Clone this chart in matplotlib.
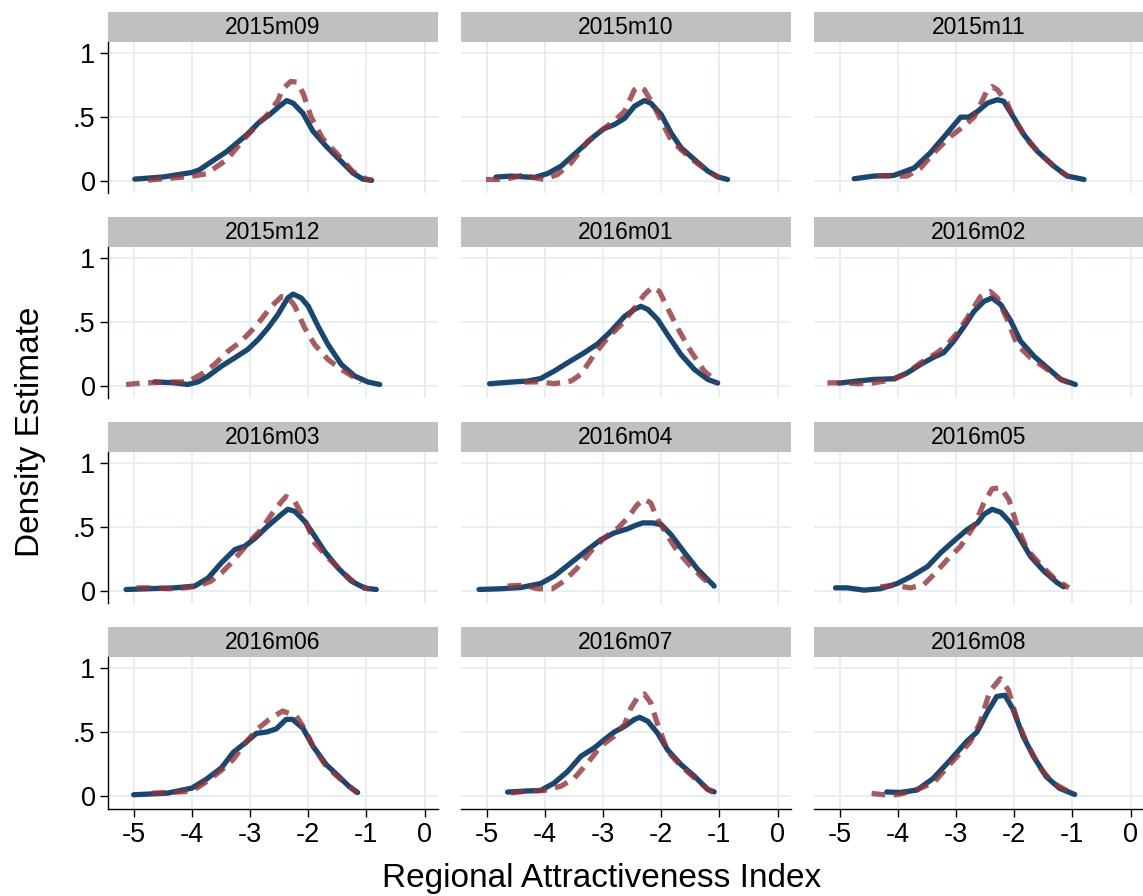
import matplotlib
matplotlib.use("Agg")
import matplotlib.pyplot as plt
from matplotlib.patches import Rectangle

plt.rcParams["font.family"] = ["Liberation Sans", "DejaVu Sans"]

panels = ["2015m09", "2015m10", "2015m11",
          "2015m12", "2016m01", "2016m02",
          "2016m03", "2016m04", "2016m05",
          "2016m06", "2016m07", "2016m08"]
x_ticks = [-5, -4, -3, -2, -1, 0]
y_ticks = [0, 0.5, 1]
y_tick_labels = ["0", ".5", "1"]
x_title = "Regional Attractiveness Index"
y_title = "Density Estimate"

# (x, density) pairs per month: sol = first series, dsh = second series
sol_2015m09 = [(-4.98, .013), (-4.49, .03), (-4.0, .065), (-3.87, .086), (-3.4, .23),
               (-3.06, .36), (-2.83, .465), (-2.66, .52), (-2.51, .58), (-2.37, .63),
               (-2.26, .61), (-2.09, .53), (-1.92, .39), (-1.69, .27), (-1.46, .165),
               (-1.23, .06), (-1.06, .013), (-0.91, .003)]
dsh_2015m09 = [(-4.75, .005), (-4.0, .035), (-3.75, .055), (-3.4, .165), (-3.06, .35),
               (-2.7, .52), (-2.52, .63), (-2.44, .72), (-2.3, .78), (-2.2, .775),
               (-2.09, .69), (-1.95, .5), (-1.75, .33), (-1.52, .22), (-1.23, .07),
               (-1.0, .013), (-0.89, .003)]

sol_2015m10 = [(-4.84, .029), (-4.58, .037), (-4.18, .026), (-3.95, .057), (-3.72, .115),
               (-3.44, .23), (-3.15, .35), (-2.98, .41), (-2.81, .44), (-2.63, .49),
               (-2.46, .585), (-2.29, .63), (-2.18, .61), (-2.0, .52), (-1.83, .375),
               (-1.66, .26), (-1.43, .167), (-1.2, .076), (-1.03, .031), (-0.86, .01)]
dsh_2015m10 = [(-5.01, .01), (-4.7, .01), (-4.41, .04), (-4.24, .03), (-4.01, .01),
               (-3.78, .05), (-3.55, .14), (-3.26, .31), (-3.04, .39), (-2.81, .47),
               (-2.63, .545), (-2.46, .715), (-2.38, .74), (-2.29, .715), (-2.12, .585),
               (-2.0, .47), (-1.83, .32), (-1.66, .245), (-1.43, .154), (-1.2, .076),
               (-1.0, .023)]

sol_2015m11 = [(-4.75, .016), (-4.41, .037), (-4.07, .042), (-3.72, .1), (-3.44, .22),
               (-3.15, .375), (-2.92, .5), (-2.78, .5), (-2.63, .545), (-2.46, .61),
               (-2.29, .637), (-2.18, .624), (-2.0, .49), (-1.83, .36), (-1.6, .23),
               (-1.32, .115), (-1.09, .037), (-0.8, .01)]
dsh_2015m11 = [(-4.35, .04), (-4.07, .037), (-3.84, .037), (-3.61, .1), (-3.38, .22),
               (-3.09, .35), (-2.86, .43), (-2.69, .5), (-2.58, .6), (-2.46, .715),
               (-2.38, .74), (-2.29, .715), (-2.12, .61), (-2.0, .48), (-1.78, .32),
               (-1.55, .21), (-1.26, .09), (-1.06, .03)]

sol_2015m12 = [(-4.64, .031), (-4.3, .023), (-4.07, .01), (-3.89, .031), (-3.72, .076),
               (-3.49, .154), (-3.26, .22), (-3.04, .285), (-2.86, .363), (-2.69, .454),
               (-2.52, .56), (-2.35, .69), (-2.26, .72), (-2.12, .69), (-2.0, .625),
               (-1.83, .467), (-1.66, .324), (-1.43, .167), (-1.2, .076), (-0.97, .029),
               (-0.77, .01)]
dsh_2015m12 = [(-5.13, .01), (-4.81, .023), (-4.41, .029), (-4.07, .031), (-3.84, .09),
               (-3.61, .167), (-3.38, .27), (-3.15, .35), (-2.98, .43), (-2.81, .52),
               (-2.63, .625), (-2.46, .70), (-2.35, .70), (-2.23, .625), (-2.06, .454),
               (-1.89, .324), (-1.66, .206), (-1.43, .128), (-1.2, .063), (-1.09, .029)]

sol_2016m01 = [(-4.95, .016), (-4.58, .029), (-4.3, .037), (-4.07, .057), (-3.84, .115),
               (-3.61, .18), (-3.32, .26), (-3.09, .33), (-2.86, .43), (-2.63, .545),
               (-2.46, .60), (-2.35, .624), (-2.23, .60), (-2.06, .52), (-1.89, .40),
               (-1.66, .245), (-1.43, .128), (-1.2, .05), (-1.03, .021)]
dsh_2016m01 = [(-4.35, .029), (-4.07, .031), (-3.84, .016), (-3.55, .037), (-3.38, .09),
               (-3.15, .245), (-2.92, .376), (-2.69, .48), (-2.46, .61), (-2.29, .715),
               (-2.15, .775), (-2.03, .74), (-1.89, .61), (-1.72, .454), (-1.49, .27),
               (-1.26, .115), (-1.03, .023)]

sol_2016m02 = [(-5.01, .021), (-4.7, .037), (-4.41, .05), (-4.07, .055), (-3.84, .1),
               (-3.61, .167), (-3.38, .225), (-3.21, .26), (-3.04, .35), (-2.86, .467),
               (-2.69, .585), (-2.52, .663), (-2.38, .69), (-2.23, .637), (-2.06, .51),
               (-1.89, .35), (-1.66, .232), (-1.43, .141), (-1.2, .05), (-0.95, .01)]
dsh_2016m02 = [(-5.21, .023), (-4.87, .023), (-4.7, .016), (-4.41, .023), (-4.07, .05),
               (-3.84, .1), (-3.61, .18), (-3.32, .26), (-3.15, .324), (-2.98, .415),
               (-2.81, .53), (-2.58, .70), (-2.41, .74), (-2.29, .69), (-2.12, .52),
               (-1.95, .324), (-1.72, .22), (-1.43, .128), (-1.2, .05), (-1.03, .016)]

sol_2016m03 = [(-5.13, .01), (-4.75, .016), (-4.3, .023), (-3.95, .037), (-3.72, .1),
               (-3.49, .22), (-3.26, .324), (-3.09, .35), (-2.92, .41), (-2.69, .51),
               (-2.46, .60), (-2.35, .64), (-2.23, .624), (-2.06, .545), (-1.89, .43),
               (-1.72, .31), (-1.49, .18), (-1.26, .076), (-1.03, .021), (-0.83, .01)]
dsh_2016m03 = [(-4.95, .023), (-4.64, .023), (-4.41, .016), (-4.12, .023), (-3.89, .037),
               (-3.67, .076), (-3.49, .14), (-3.32, .22), (-3.15, .31), (-2.98, .40),
               (-2.81, .48), (-2.63, .60), (-2.46, .70), (-2.38, .74), (-2.23, .70),
               (-2.06, .56), (-1.89, .376), (-1.66, .26), (-1.43, .154), (-1.2, .063),
               (-0.95, .01)]

sol_2016m04 = [(-5.13, .01), (-4.75, .016), (-4.41, .026), (-4.07, .057), (-3.84, .115),
               (-3.55, .22), (-3.26, .324), (-3.04, .40), (-2.81, .454), (-2.58, .486),
               (-2.46, .51), (-2.32, .533), (-2.15, .533), (-2.0, .52), (-1.83, .44),
               (-1.6, .30), (-1.37, .167), (-1.09, .037)]
dsh_2016m04 = [(-4.64, .037), (-4.38, .044), (-4.12, .016), (-3.87, .016), (-3.67, .076),
               (-3.44, .18), (-3.21, .31), (-2.98, .415), (-2.75, .49), (-2.58, .57),
               (-2.41, .676), (-2.29, .72), (-2.18, .69), (-2.06, .56), (-1.89, .43),
               (-1.72, .31), (-1.49, .19), (-1.26, .09), (-1.09, .031)]

sol_2016m05 = [(-5.07, .023), (-4.87, .023), (-4.58, .005), (-4.3, .016), (-4.01, .057),
               (-3.78, .11), (-3.49, .19), (-3.26, .30), (-3.04, .39), (-2.81, .48),
               (-2.63, .533), (-2.52, .60), (-2.38, .64), (-2.23, .616), (-2.06, .533),
               (-1.89, .40), (-1.72, .27), (-1.49, .154), (-1.26, .063), (-1.15, .031)]
dsh_2016m05 = [(-4.3, .031), (-4.07, .042), (-3.78, .023), (-3.55, .05), (-3.38, .128),
               (-3.15, .245), (-2.92, .35), (-2.69, .51), (-2.52, .69), (-2.38, .80),
               (-2.23, .81), (-2.09, .715), (-1.95, .51), (-1.78, .324), (-1.55, .206),
               (-1.32, .10), (-1.06, .023)]

sol_2016m06 = [(-5.0, .008), (-4.43, .02), (-4.0, .06), (-3.75, .13), (-3.49, .22),
               (-3.29, .34), (-3.07, .42), (-2.89, .49), (-2.72, .5), (-2.55, .525),
               (-2.38, .6), (-2.27, .6), (-2.09, .53), (-1.92, .39), (-1.69, .245),
               (-1.47, .15), (-1.3, .074), (-1.15, .026)]
dsh_2016m06 = [(-4.69, .02), (-4.0, .035), (-3.75, .11), (-3.49, .2), (-3.29, .285),
               (-3.07, .42), (-2.87, .525), (-2.67, .6), (-2.44, .665), (-2.21, .63),
               (-2.04, .51), (-1.92, .39), (-1.69, .23), (-1.47, .14), (-1.15, .02)]

sol_2016m07 = [(-4.64, .029), (-4.35, .037), (-4.07, .042), (-3.84, .1), (-3.61, .19),
               (-3.38, .31), (-3.15, .376), (-2.98, .44), (-2.81, .50), (-2.63, .545),
               (-2.46, .60), (-2.37, .616), (-2.23, .585), (-2.06, .49), (-1.89, .36),
               (-1.66, .245), (-1.43, .154), (-1.2, .05), (-1.09, .031)]
dsh_2016m07 = [(-4.58, .023), (-4.3, .037), (-4.01, .042), (-3.72, .076), (-3.49, .14),
               (-3.26, .26), (-3.04, .39), (-2.81, .467), (-2.63, .56), (-2.52, .69),
               (-2.38, .79), (-2.29, .80), (-2.18, .73), (-2.06, .56), (-1.89, .35),
               (-1.66, .232), (-1.43, .141), (-1.2, .05), (-1.09, .023)]

sol_2016m08 = [(-4.19, .03), (-3.96, .026), (-3.67, .045), (-3.39, .137), (-3.1, .28),
               (-2.81, .43), (-2.64, .5), (-2.47, .65), (-2.3, .78), (-2.16, .79),
               (-2.02, .68), (-1.85, .47), (-1.67, .31), (-1.45, .15), (-1.22, .058),
               (-0.96, .01)]
dsh_2016m08 = [(-4.45, .018), (-4.13, .003), (-3.96, .013), (-3.67, .05), (-3.39, .1),
               (-3.1, .25), (-2.76, .42), (-2.59, .57), (-2.42, .82), (-2.24, .92),
               (-2.1, .83), (-1.96, .61), (-1.79, .42), (-1.56, .22), (-1.33, .1),
               (-0.99, .013)]

solid_series = [sol_2015m09, sol_2015m10, sol_2015m11, sol_2015m12,
                sol_2016m01, sol_2016m02, sol_2016m03, sol_2016m04,
                sol_2016m05, sol_2016m06, sol_2016m07, sol_2016m08]
dashed_series = [dsh_2015m09, dsh_2015m10, dsh_2015m11, dsh_2015m12,
                 dsh_2016m01, dsh_2016m02, dsh_2016m03, dsh_2016m04,
                 dsh_2016m05, dsh_2016m06, dsh_2016m07, dsh_2016m08]

NAVY = "#1a476f"
MAROON = "#90353b"
GRID = "#e6eef1"
STRIP = "#c0c0c0"

W, H = 1143, 896
col_left = [108, 461, 814]
ax_w, ax_h = 330, 151.5
strip_h = 30

fig = plt.figure(figsize=(W / 100, H / 100), dpi=100)

for i, name in enumerate(panels):
    r, c = divmod(i, 3)
    top = 42 + 205 * r
    ax = fig.add_axes([col_left[c] / W, 1 - (top + ax_h) / H, ax_w / W, ax_h / H])

    xs, ys = zip(*solid_series[i])
    ax.plot(xs, ys, color=NAVY, lw=3.8, solid_capstyle="round",
            solid_joinstyle="round", zorder=3)
    xd, yd = zip(*dashed_series[i])
    ax.plot(xd, yd, color=MAROON, alpha=0.8, lw=3.8, linestyle=(0, (2.6, 1.6)),
            dash_capstyle="butt", dash_joinstyle="round", zorder=4)

    ax.set_xlim(-5.44, 0.23)
    ax.set_ylim(-0.1, 1.09)
    ax.set_xticks(x_ticks)
    ax.set_xticklabels([str(t) for t in x_ticks])
    ax.set_yticks(y_ticks)
    ax.set_yticklabels(y_tick_labels)
    ax.grid(True, color=GRID, lw=1.3)
    ax.set_axisbelow(True)

    for side in ["top", "right"]:
        ax.spines[side].set_visible(False)
    ax.spines["left"].set_visible(c == 0)
    ax.spines["bottom"].set_visible(r == 3)
    for side in ["left", "bottom"]:
        ax.spines[side].set_linewidth(1.0)
    ax.tick_params(axis="y", left=(c == 0), labelleft=(c == 0),
                   length=6, width=1, labelsize=19.5, pad=3)
    ax.tick_params(axis="x", bottom=(r == 3), labelbottom=(r == 3),
                   length=6, width=1, labelsize=19.5, pad=4)

    # title strip above each panel
    ax.add_patch(Rectangle((0, 1), 1, strip_h / ax_h, transform=ax.transAxes,
                           facecolor=STRIP, edgecolor="none", clip_on=False))
    ax.text(0.5, 1 + strip_h / 2 / ax_h, name, transform=ax.transAxes,
            ha="center", va="center", fontsize=16.5, color="black")

fig.text(602 / W, 1 - 878 / H, x_title, ha="center", va="center", fontsize=24)
fig.text(31 / W, 1 - 432 / H, y_title, ha="center", va="center",
         rotation=90, fontsize=24)

fig.savefig("out.png", dpi=100, facecolor="white")
